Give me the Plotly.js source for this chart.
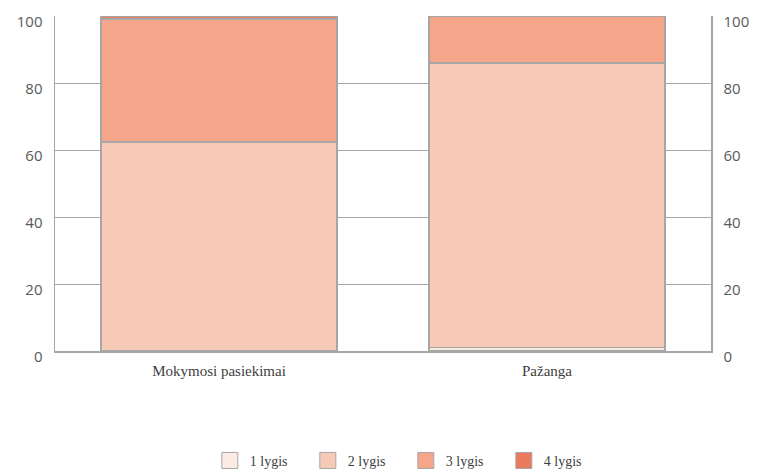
<!DOCTYPE html>
<html>
<head>
<meta charset="utf-8">
<script src="https://cdn.plot.ly/plotly-3.0.1.min.js"></script>
<style>html,body{margin:0;padding:0;background:#fff;}#chart{width:760px;height:475px;}</style>
</head>
<body>
<div id="chart"></div>
<script>
const categories = ["Mokymosi pasiekimai", "Pažanga"];
const seriesNames = ["1 lygis", "2 lygis", "3 lygis", "4 lygis"];
const lygis1 = [0, 1.1];
const lygis2 = [62.4, 84.9];
const lygis3 = [36.7, 14.0];
const lygis4 = [0.9, 0];
const tickVals = [0, 20, 40, 60, 80, 100];
const tickText = ["0", "20", "40", "60", "80", "100"];

const colors = ["#FCEBE3", "#F7CAB7", "#F4A58A", "#EC7A5E"];
const values = [lygis1, lygis2, lygis3, lygis4];

const traces = values.map((v, i) => ({
  type: "bar",
  name: seriesNames[i],
  x: categories,
  y: v,
  width: 0.72,
  marker: {color: colors[i], line: {color: "#A6A6A6", width: 1.5}},
  showlegend: false,
  hoverinfo: "skip"
}));
// legend entries with larger square swatches
seriesNames.forEach((n, i) => traces.push({
  type: "scatter", mode: "markers", name: n,
  x: [null], y: [null],
  marker: {symbol: "square", size: 16, color: colors[i], line: {color: "#A6A6A6", width: 1}},
  showlegend: true, hoverinfo: "skip"
}));
// invisible trace to carry the right-hand axis
traces.push({
  type: "scatter", mode: "markers", x: categories, y: [0, 0], yaxis: "y2",
  marker: {opacity: 0}, showlegend: false, hoverinfo: "skip"
});

const tickFont = {family: "Open Sans, sans-serif", size: 15, color: "#595959"};

const layout = {
  width: 760, height: 475,
  margin: {l: 55, r: 49, t: 16, b: 124, autoexpand: false},
  paper_bgcolor: "#fff", plot_bgcolor: "#fff",
  barmode: "stack",
  showlegend: true,
  xaxis: {
    type: "category",
    showgrid: false,
    showline: true, linecolor: "#A6A6A6", linewidth: 1.5,
    ticks: "", ticklen: 0, ticklabelstandoff: 5,
    tickfont: {family: "Liberation Serif, serif", size: 15, color: "#404040"},
    fixedrange: true
  },
  yaxis: {
    range: [0, 100],
    tickvals: tickVals, ticktext: tickText,
    showgrid: true, gridcolor: "#A6A6A6", gridwidth: 1,
    showline: true, linecolor: "#A6A6A6", linewidth: 1.5, mirror: false,
    zeroline: false,
    ticks: "", ticklabelstandoff: 8, ticklabelshift: 6, ticklabeloverflow: "allow",
    tickfont: tickFont,
    fixedrange: true
  },
  yaxis2: {
    overlaying: "y", side: "right", anchor: "x",
    range: [0, 100],
    tickvals: tickVals, ticktext: tickText,
    showgrid: false,
    showline: true, linecolor: "#A6A6A6", linewidth: 1.5,
    zeroline: false,
    ticks: "", ticklabelstandoff: 8, ticklabelshift: 6, ticklabeloverflow: "allow",
    tickfont: tickFont,
    fixedrange: true
  },
  legend: {
    orientation: "h",
    x: 0.236, xanchor: "left",
    y: -0.328, yanchor: "middle",
    font: {family: "Liberation Serif, serif", size: 14, color: "#404040"},
    itemwidth: 30,
    entrywidth: 53,
    traceorder: "normal"
  }
};

Plotly.newPlot("chart", traces, layout, {displayModeBar: false, staticPlot: true});
</script>
</body>
</html>
